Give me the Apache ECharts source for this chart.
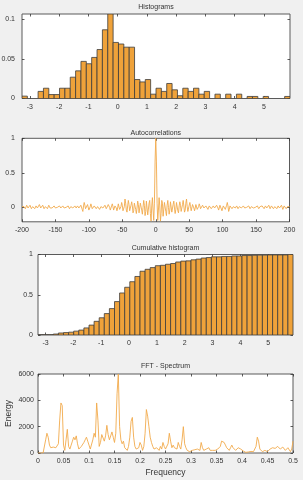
<!DOCTYPE html>
<html><head><meta charset="utf-8">
<script src="https://cdn.jsdelivr.net/npm/echarts@6/dist/echarts.min.js"></script>
<style>html,body{margin:0;padding:0;background:#f0f0f0}#c{width:303px;height:480px}</style>
</head><body><div id="c"></div>
<script>
// ---- data ----
const histRange = [-3.27, 5.89];
const histValues = [0.003,0,0,0.009,0.013,0.005,0.005,0.013,0.013,0.027,
  0.035,0.047,0.044,0.052,0.062,0.087,0.107,0.071,0.069,0.065,
  0.065,0.024,0.021,0.024,0.0055,0.013,0.009,0.019,0.011,0.0035,
  0.013,0.009,0.013,0.0055,0.009,0,0.0055,0,0.0055,0,
  0.0055,0,0.0026,0.0026,0,0.0026,0,0,0,0.0026];
const cumValues = [0.003,0.003,0.003,0.012,0.025,0.030,0.035,0.048,0.061,0.088,
  0.123,0.170,0.214,0.266,0.328,0.415,0.522,0.593,0.662,0.727,
  0.792,0.816,0.837,0.861,0.866,0.879,0.888,0.907,0.918,0.921,
  0.934,0.943,0.956,0.962,0.971,0.971,0.976,0.976,0.982,0.982,
  0.987,0.987,0.990,0.992,0.992,0.995,0.995,0.995,0.995,1.0];
const histXTicks = [-3,-2,-1,0,1,2,3,4,5];
const histYTicks = [0,0.05,0.1];
const cumYTicks = [0,0.5,1];

// autocorrelation for lags 0..200 (symmetric)
const acfHalf = [1,0.67,0.06,-0.19,-0.04,0.14,0.02,-0.2,-0.09,0.1,
  0.06,-0.13,-0.11,0.07,0.09,-0.06,-0.12,0.03,0.1,0.0,
  -0.1,-0.04,0.08,0.06,-0.07,-0.08,0.04,0.09,-0.01,-0.09,
  -0.03,0.07,0.06,-0.05,-0.08,0.02,0.08,0.03,-0.06,-0.05,
  0.04,0.1,0.02,-0.07,-0.04,0.06,0.12,0.01,-0.06,-0.05,
  0.03,0.07,0.01,-0.05,-0.03,0.04,0.05,-0.01,-0.05,-0.01,
  0.04,0.02,-0.03,-0.04,0.01,0.05,0.02,-0.02,-0.04,0.0,
  0.03,0.04,-0.01,-0.03,-0.02,0.02,0.03,0.0,-0.03,-0.01,
  0.02,0.03,0.01,-0.02,-0.03,0.0,0.02,0.01,-0.01,-0.02,
  0.01,0.03,0.02,-0.01,-0.04,-0.02,0.03,0.05,0.01,-0.05,
  -0.04,0.02,0.04,0.0,-0.03,-0.02,0.03,0.07,0.02,-0.06,
  -0.03,0.02,0.03,0.0,-0.02,-0.01,0.01,0.02,0.0,-0.01,
  0.01,0.02,0.0,-0.02,-0.01,0.01,0.02,0.01,-0.01,-0.02,
  0.0,0.02,0.01,-0.01,0.0,0.01,0.0,-0.01,0.01,0.02,
  0.0,-0.02,-0.01,0.01,0.02,0.0,-0.01,0.0,0.01,0.0,
  -0.01,0.01,0.02,0.01,-0.02,-0.01,0.01,0.0,-0.01,0.02,
  0.03,0.0,-0.02,0.0,0.02,0.01,-0.01,-0.02,0.01,0.03,
  0.01,-0.02,-0.01,0.02,0.04,0.01,-0.02,-0.01,0.01,0.02,
  0.0,-0.02,0.0,0.02,0.01,-0.01,-0.02,0.01,0.03,0.0,
  -0.03,-0.01,0.02,0.03,0.0,-0.02,-0.01,0.01,0.02,-0.01,
  0.01];
const acfXTicks = [-200,-150,-100,-50,0,50,100,150,200];
const acfYTicks = [0,0.5,1];

// FFT energy at frequency steps of 0.0025 from 0 to 0.5
const fftStep = 0.0025;
const fftEnergy = [0,0,0,0,0,0,1000,1500,1200,600,
  400,500,450,350,400,300,700,2500,3800,3600,
  600,200,1000,1800,500,300,600,900,1200,1000,
  1300,700,300,200,500,400,800,1000,1200,900,
  600,300,200,1000,1500,1200,3800,2500,500,800,
  1400,1300,900,1300,2100,1400,1000,1300,1600,1200,
  800,1500,4500,6000,2000,1000,700,900,400,300,
  200,500,1200,2400,2700,1200,500,300,200,400,
  800,600,200,500,1500,3300,2800,2000,1200,800,
  500,300,200,400,300,200,500,300,800,500,
  300,400,700,1500,900,400,600,400,500,300,
  800,500,300,1000,2000,700,400,200,100,100,
  150,200,300,250,200,300,400,200,800,400,
  200,300,300,200,400,200,100,200,300,200,
  200,300,400,500,900,850,800,600,400,300,
  200,400,600,400,300,200,200,400,500,300,
  300,150,100,50,50,80,100,120,150,100,
  200,500,1200,900,300,150,100,150,200,150,
  100,200,300,350,400,300,350,400,500,400,
  300,350,450,300,200,300,400,250,100,300,
  900];
const fftXTicks = [0,0.05,0.1,0.15,0.2,0.25,0.3,0.35,0.4,0.45,0.5];
const fftYTicks = [0,2000,4000,6000];

// ---- build ----
const FONT = 'Liberation Sans, Arial, Helvetica, sans-serif';
const TXT = '#333333';
const BAR = '#EFA23A';
const LINE = '#F2AA4C';

const nBins = histValues.length;
const binW = (histRange[1] - histRange[0]) / nBins;
const histData = histValues.map((v, i) => [histRange[0] + i * binW, histRange[0] + (i + 1) * binW, v]);
const cumData = cumValues.map((v, i) => [histRange[0] + i * binW, histRange[0] + (i + 1) * binW, v]);
const acfData = [];
for (let lag = -200; lag <= 200; lag++) acfData.push([lag, acfHalf[Math.abs(lag)]]);
const fftData = fftEnergy.map((e, i) => [i * fftStep, e]);

const grids = [
  {left: 22, top: 14, width: 268, height: 84.5},
  {left: 22, top: 138.3, width: 267.5, height: 83.5},
  {left: 38, top: 254.5, width: 255, height: 80.5},
  {left: 38, top: 374, width: 255, height: 79}
].map(g => Object.assign(g, {show: true, backgroundColor: '#fff', borderColor: '#5a5a5a', borderWidth: 1, outerBoundsMode: 'none', containLabel: false}));

const noLine = {show: false, onZero: false};
const fmt = v => String(v);
function tick(vals) {
  return {show: true, inside: true, length: 2.5, customValues: vals, lineStyle: {color: '#333', width: 0.8}};
}
function xAx(gi, min, max, vals, extra) {
  return [
    Object.assign({type: 'value', gridIndex: gi, position: 'bottom', min, max,
      axisLine: noLine, splitLine: {show: false}, axisTick: tick(vals),
      axisLabel: {customValues: vals, formatter: fmt, fontSize: 7, color: TXT, fontFamily: FONT, margin: 5}}, extra || {}),
    {type: 'value', gridIndex: gi, position: 'top', min, max,
      axisLine: noLine, splitLine: {show: false}, axisTick: tick(vals), axisLabel: {show: false}}
  ];
}
function yAx(gi, min, max, vals, margin, extra) {
  return [
    Object.assign({type: 'value', gridIndex: gi, position: 'left', min, max,
      axisLine: noLine, splitLine: {show: false}, axisTick: tick(vals),
      axisLabel: {customValues: vals, formatter: fmt, fontSize: 7, color: TXT, fontFamily: FONT, margin}}, extra || {}),
    {type: 'value', gridIndex: gi, position: 'right', min, max,
      axisLine: noLine, splitLine: {show: false}, axisTick: tick(vals), axisLabel: {show: false}}
  ];
}

function barRender(params, api) {
  const lo = api.value(0), hi = api.value(1), v = api.value(2);
  if (!(v > 0)) return null;
  const p0 = api.coord([lo, v]);
  const p1 = api.coord([hi, 0]);
  return {type: 'rect', shape: {x: p0[0], y: p0[1], width: p1[0] - p0[0], height: p1[1] - p0[1]},
    style: {fill: BAR, stroke: '#3c3c3c', lineWidth: 0.8}};
}

const titles = [
  ['Histograms', 156, 3.5],
  ['Autocorrelations', 155.8, 129.2],
  ['Cumulative histogram', 165.5, 244.8],
  ['FFT - Spectrum', 165.5, 362.5]
].map(([t, x, y]) => ({text: t, left: x, top: y, textAlign: 'center', padding: 0,
  textStyle: {fontSize: 7, fontWeight: 'normal', color: TXT, fontFamily: FONT}}));

const option = {
  animation: false,
  backgroundColor: '#f0f0f0',
  title: titles,
  grid: grids,
  xAxis: [].concat(
    xAx(0, histRange[0], histRange[1], histXTicks),
    xAx(1, -200, 200, acfXTicks),
    xAx(2, histRange[0], histRange[1], histXTicks),
    xAx(3, 0, 0.5, fftXTicks, {name: 'Frequency', nameLocation: 'middle', nameGap: 15, nameMoveOverlap: false,
      nameTextStyle: {fontSize: 8.5, color: TXT, fontFamily: FONT}})
  ),
  yAxis: [].concat(
    yAx(0, 0, 0.107, histYTicks, 7),
    yAx(1, -0.21, 1, acfYTicks, 7),
    yAx(2, 0, 1, cumYTicks, 5),
    yAx(3, 0, 6000, fftYTicks, 4, {name: 'Energy', nameLocation: 'middle', nameGap: 25, nameRotate: 90, nameMoveOverlap: false,
      nameTextStyle: {fontSize: 8.5, color: TXT, fontFamily: FONT}})
  ),
  series: [
    {type: 'custom', xAxisIndex: 0, yAxisIndex: 0, data: histData, renderItem: barRender, encode: {x: [0, 1], y: 2}, clip: true},
    {type: 'line', xAxisIndex: 2, yAxisIndex: 2, data: acfData, showSymbol: false, lineStyle: {color: LINE, width: 0.9}, itemStyle: {color: LINE}},
    {type: 'custom', xAxisIndex: 4, yAxisIndex: 4, data: cumData, renderItem: barRender, encode: {x: [0, 1], y: 2}, clip: true},
    {type: 'line', xAxisIndex: 6, yAxisIndex: 6, data: fftData, showSymbol: false, lineStyle: {color: LINE, width: 0.9}, itemStyle: {color: LINE}}
  ]
};
const chart = echarts.init(document.getElementById('c'), null, {renderer: 'canvas'});
chart.setOption(option);
</script></body></html>
